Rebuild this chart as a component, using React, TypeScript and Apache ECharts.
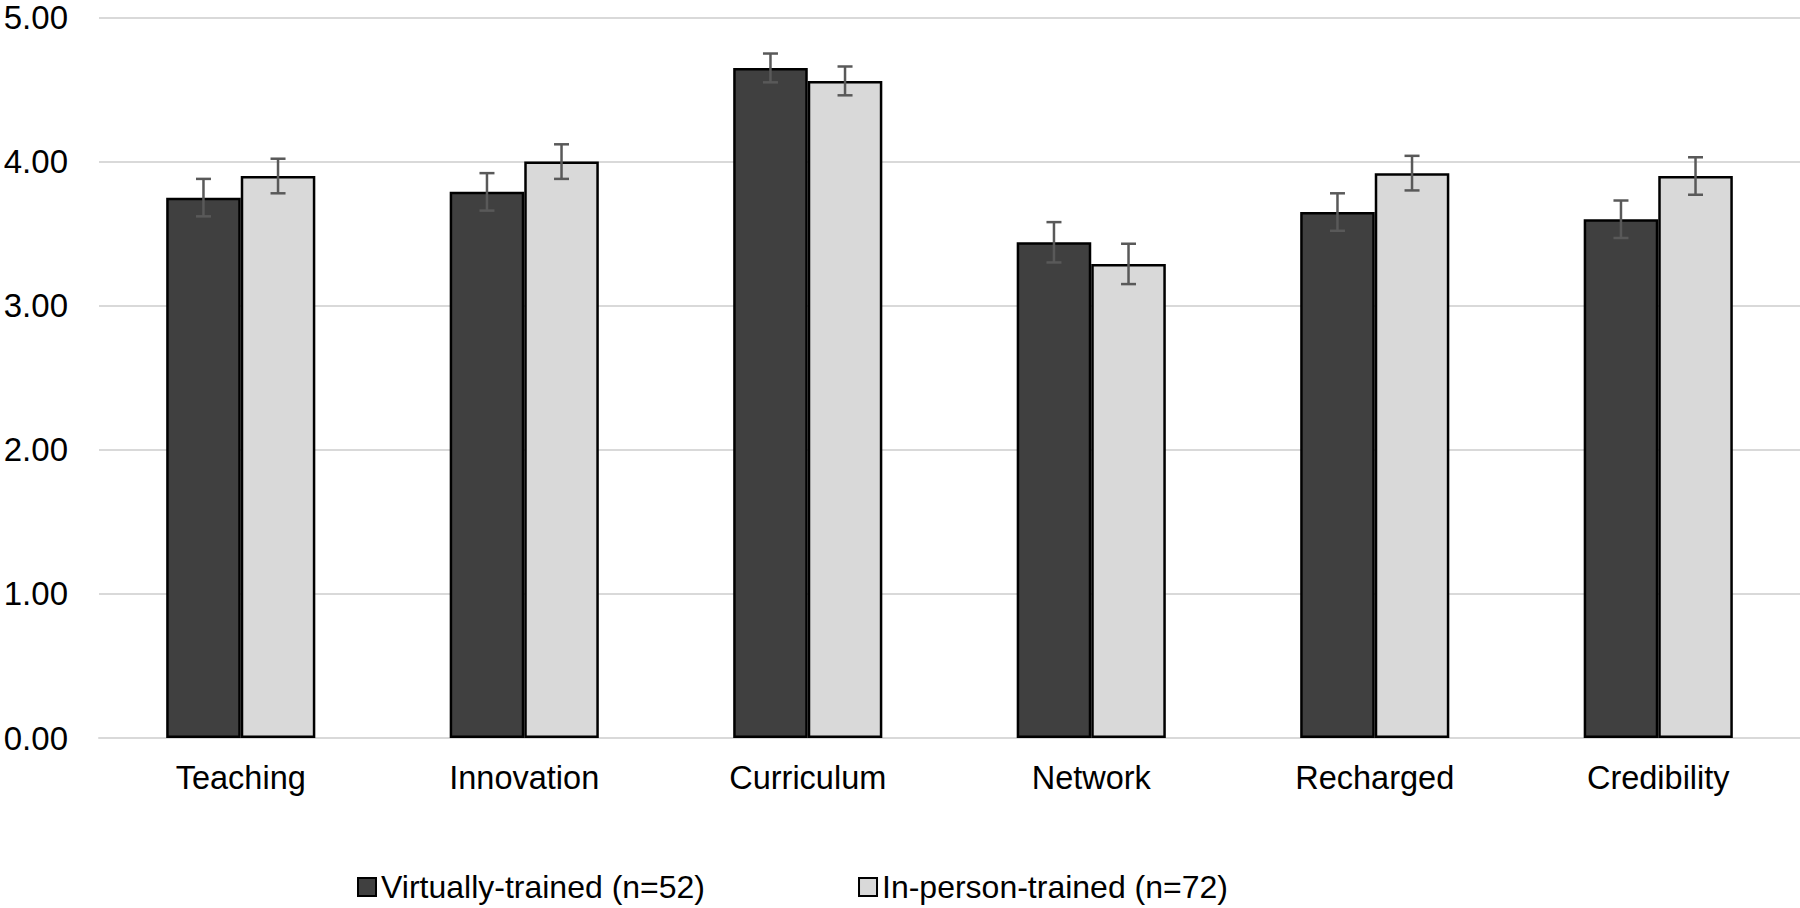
import React, { useEffect, useRef } from "react";
import * as echarts from "echarts";

const categories = ["Teaching", "Innovation", "Curriculum", "Network", "Recharged", "Credibility"];
const virtualValues = [3.75, 3.79, 4.65, 3.44, 3.65, 3.60];
const virtualErrors = [0.13, 0.13, 0.10, 0.14, 0.13, 0.13];
const inPersonValues = [3.90, 4.00, 4.56, 3.29, 3.92, 3.90];
const inPersonErrors = [0.12, 0.12, 0.10, 0.14, 0.12, 0.13];
const seriesNames = ["Virtually-trained (n=52)", "In-person-trained (n=72)"];

const FONT = "Liberation Sans, Arial, sans-serif";
const BAR_FRACTION = 0.263;

function errorSeries(values: number[], errors: number[], side: number) {
  return {
    type: "custom",
    name: "err" + side,
    silent: true,
    z: 10,
    data: values.map((v, i) => [i, v, errors[i]]),
    renderItem: (params: any, api: any) => {
      const idx = api.value(0);
      const v = api.value(1);
      const e = api.value(2);
      const band = api.size([1, 0])[0];
      const offset = side * band * BAR_FRACTION / 2;
      const hi = api.coord([idx, v + e]);
      const lo = api.coord([idx, v - e]);
      const x = hi[0] + offset;
      const cap = 7.5;
      const style = { stroke: "#595959", lineWidth: 2.5 };
      return {
        type: "group",
        children: [
          { type: "line", shape: { x1: x, y1: hi[1], x2: x, y2: lo[1] }, style },
          { type: "line", shape: { x1: x - cap, y1: hi[1], x2: x + cap, y2: hi[1] }, style },
          { type: "line", shape: { x1: x - cap, y1: lo[1], x2: x + cap, y2: lo[1] }, style },
        ],
      };
    },
  };
}

export default function App() {
  const ref = useRef<HTMLDivElement>(null);
  useEffect(() => {
    if (!ref.current) return;
    const chart = echarts.init(ref.current, undefined, { renderer: "svg" });
    chart.setOption({
      animation: false,
      backgroundColor: "#ffffff",
      textStyle: { fontFamily: FONT },
      grid: { left: 99, width: 1733, top: 17.5, bottom: 170, containLabel: false },
      legend: {
        data: seriesNames,
        icon: "rect",
        left: 352,
        top: 866,
        itemWidth: 18,
        itemHeight: 18,
        itemGap: 153,
        textStyle: { fontSize: 32, color: "#000", fontFamily: FONT },
        itemStyle: { borderColor: "#000", borderWidth: 2 },
      },
      xAxis: {
        type: "category",
        data: categories,
        axisLine: { show: true, lineStyle: { color: "#d9d9d9", width: 2 } },
        axisTick: { show: false },
        axisLabel: { fontSize: 32.5, color: "#000", margin: 23, fontFamily: FONT },
        splitLine: { show: false },
      },
      yAxis: {
        type: "value",
        min: 0,
        max: 5,
        interval: 1,
        axisLine: { show: false },
        axisTick: { show: false },
        axisLabel: {
          fontSize: 33,
          color: "#000",
          margin: 31,
          fontFamily: FONT,
          formatter: (v: number) => v.toFixed(2),
        },
        splitLine: { show: true, lineStyle: { color: "#d9d9d9", width: 2 } },
      },
      series: [
        {
          type: "bar",
          name: seriesNames[0],
          data: virtualValues,
          barWidth: BAR_FRACTION * 100 + "%",
          barGap: "0%",
          itemStyle: { color: "#404040", borderColor: "#000", borderWidth: 2.5 },
        },
        {
          type: "bar",
          name: seriesNames[1],
          data: inPersonValues,
          barWidth: BAR_FRACTION * 100 + "%",
          barGap: "0%",
          itemStyle: { color: "#d9d9d9", borderColor: "#000", borderWidth: 2.5 },
        },
        errorSeries(virtualValues, virtualErrors, -1),
        errorSeries(inPersonValues, inPersonErrors, 1),
      ],
    });
    return () => chart.dispose();
  }, []);
  return (
    <div
      ref={ref}
      style={{ position: "absolute", left: 0, top: 0, width: 1800, height: 908 }}
    />
  );
}
